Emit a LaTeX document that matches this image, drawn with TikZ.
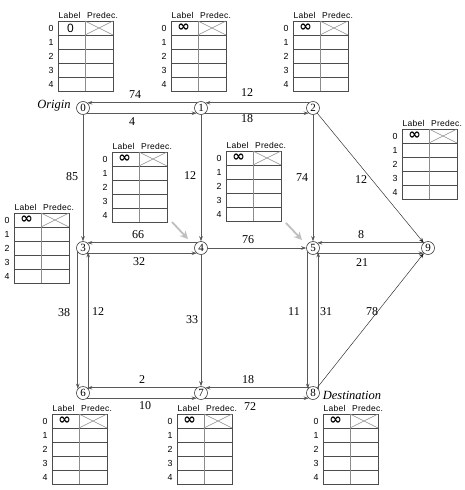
\documentclass[tikz,border=0pt]{standalone}
\usepackage{fontspec}
\setmainfont{Liberation Serif}
\newfontfamily\tabfont[LetterSpace=3]{Liberation Sans}
\newfontfamily\digfont{Liberation Sans}
\newfontfamily\symfont{DejaVu Sans}
\usetikzlibrary{arrows.meta,calc}
\tikzset{
  vtx/.style={circle,draw=black!75,line width=0.6pt,inner sep=0pt,minimum size=13pt,font=\fontsize{11}{11}\selectfont},
  edge/.style={draw=black!65,line width=0.7pt,-{Stealth[length=5pt,width=3.6pt,fill=black]}},
  diag/.style={draw=black!85,line width=0.45pt,-{Stealth[length=5pt,width=3.6pt,fill=black]}},
  wt/.style={font=\fontsize{12}{12}\selectfont,inner sep=0pt},
  lbl/.style={font=\fontsize{12.5}{12.5}\selectfont\itshape,inner sep=0pt},
  tabline/.style={draw=black!70,line width=0.7pt},
  tabdiv/.style={draw=black!45,line width=0.7pt},
  xline/.style={draw=black!45,line width=0.5pt},
  tabtxt/.style={font=\fontsize{8.5}{8.5}\tabfont,inner sep=0pt},
  rowtxt/.style={font=\fontsize{8.8}{8.8}\digfont,inner sep=0pt},
  cellval/.style={inner sep=0pt},
  grayarrow/.style={draw=black!25,line width=1.8pt,-{Stealth[length=8pt,width=8pt]}}
}
\newcommand\lptable[4]{%
  \begin{scope}[shift={(#2,#3)}]
    \draw[tabline] (0,0) rectangle (55,70);
    \foreach \r in {14,28,42,56} \draw[tabline] (0,\r) -- (55,\r);
    \draw[tabdiv] (27,0) -- (27,70);
    \draw[xline] (27,0) -- (55,14) (27,14) -- (55,0);
    \node[tabtxt] (#1hl) at (11.5,-6) {Label};
    \node[tabtxt] (#1hp) at (44.5,-6) {Predec.};
    \foreach \i in {0,...,4} \node[rowtxt] (#1r\i) at (-7,{7+14*\i}) {\i};
    \node[cellval] (#1v) at (12.5,7) {#4};
  \end{scope}}
\newcommand\infval{\fontsize{15}{15}\symfont\bfseries ∞}
\begin{document}
\begin{tikzpicture}[x=1pt,y=-1pt]
\useasboundingbox (0,0) rectangle (465,490);
\fill[white] (0,0) rectangle (465,490);
% tables
\lptable{ta}{58}{21}{\fontsize{12}{12}\digfont 0}
\lptable{tb}{171}{21}{\infval}
\lptable{tc}{293}{21}{\infval}
\lptable{tn}{402}{129}{\infval}
\lptable{td}{112}{152}{\infval}
\lptable{te}{14}{213}{\infval}
\lptable{tf}{226}{151}{\infval}
\lptable{tg}{52}{414}{\infval}
\lptable{th}{177}{414}{\infval}
\lptable{ti}{323}{414}{\infval}
% vertices
\node[vtx] (n0) at (83,108) {0};
\node[vtx] (n1) at (201,108) {1};
\node[vtx] (n2) at (313,108) {2};
\node[vtx] (n3) at (83,248) {3};
\node[vtx] (n4) at (201,248) {4};
\node[vtx] (n5) at (313,248) {5};
\node[vtx] (n9) at (428,248) {9};
\node[vtx] (n6) at (83,393) {6};
\node[vtx] (n7) at (201,393) {7};
\node[vtx] (n8) at (313,393) {8};
\node[lbl] (origin) at (54,106) {Origin};
\node[lbl] (dest) at (352,395) {Destination};
% edges
\draw[edge] (n1.130) -- (n0.50);
\draw[edge] (n0.-50) -- (n1.230);
\draw[edge] (n2.130) -- (n1.50);
\draw[edge] (n1.-50) -- (n2.230);
\draw[edge] (n0) -- (n3);
\draw[edge] (n1) -- (n4);
\draw[edge] (n2) -- (n5);
\draw[diag] (n2) -- (n9);
\draw[edge] (n4.130) -- (n3.50);
\draw[edge] (n3.-50) -- (n4.230);
\draw[edge] (n4) -- (n5);
\draw[edge] (n9.130) -- (n5.50);
\draw[edge] (n5.-50) -- (n9.230);
\draw[edge] (n3.220) -- (n6.140);
\draw[edge] (n6.40) -- (n3.320);
\draw[edge] (n4) -- (n7);
\draw[edge] (n5.220) -- (n8.140);
\draw[edge] (n8.40) -- (n5.320);
\draw[diag] (n8) -- (n9);
\draw[edge] (n7.130) -- (n6.50);
\draw[edge] (n6.-50) -- (n7.230);
\draw[edge] (n8.130) -- (n7.50);
\draw[edge] (n7.-50) -- (n8.230);
% weights
\node[wt] (w01) at (135,95) {74};
\node[wt] (w10) at (132,122) {4};
\node[wt] (w12) at (247,93) {12};
\node[wt] (w21) at (247,119) {18};
\node[wt] (w03) at (72,177) {85};
\node[wt] (w14) at (190,176) {12};
\node[wt] (w25) at (302,178) {74};
\node[wt] (w29) at (361,180) {12};
\node[wt] (w43) at (138,235) {66};
\node[wt] (w34) at (139,262) {32};
\node[wt] (w45) at (248,240) {76};
\node[wt] (w95) at (361,235) {8};
\node[wt] (w59) at (362,263) {21};
\node[wt] (w36) at (64,313) {38};
\node[wt] (w63) at (98,312) {12};
\node[wt] (w47) at (192,320) {33};
\node[wt] (w58) at (294,312) {11};
\node[wt] (w85) at (326,312) {31};
\node[wt] (w89) at (372,312) {78};
\node[wt] (w76) at (142,380) {2};
\node[wt] (w67) at (145,406) {10};
\node[wt] (w87) at (248,380) {18};
\node[wt] (w78) at (250,407) {72};
% gray pointers
\coordinate (g4s) at (172,222);
\coordinate (g4e) at (188,239);
\coordinate (g5s) at (286,223);
\coordinate (g5e) at (302,240);
\draw[grayarrow] (g4s) -- (g4e);
\draw[grayarrow] (g5s) -- (g5e);
\end{tikzpicture}
\end{document}
